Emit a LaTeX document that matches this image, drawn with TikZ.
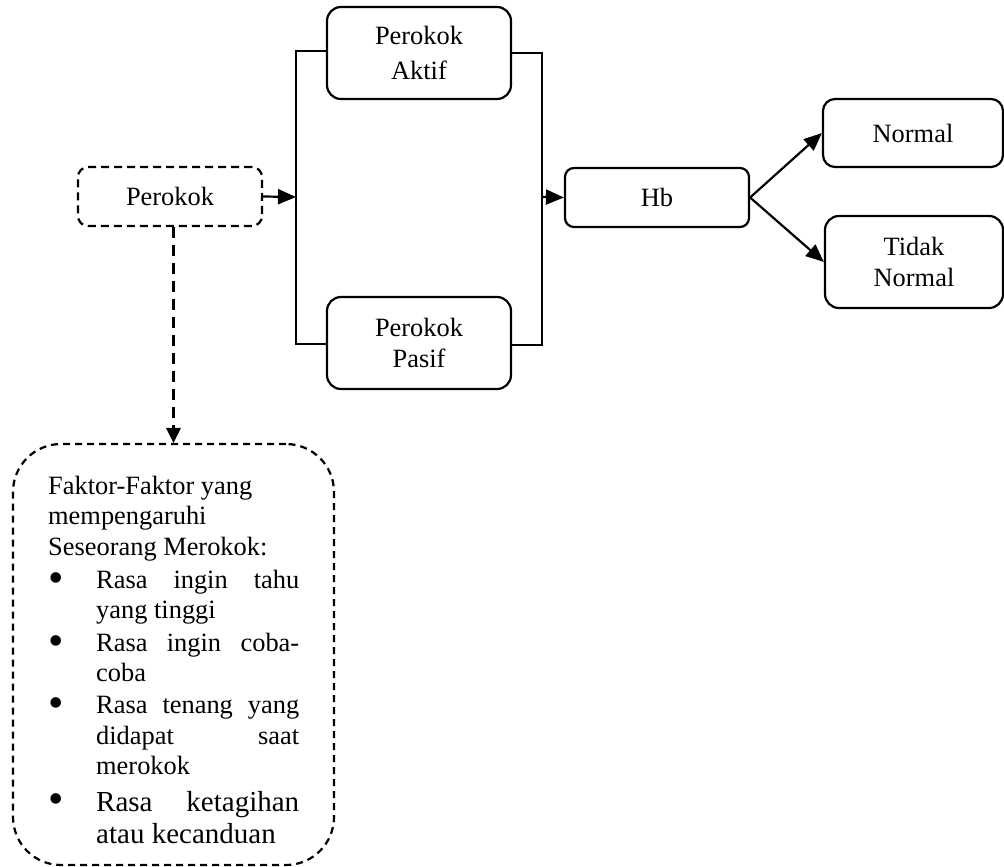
\documentclass[tikz,border=0pt]{standalone}
\usepackage{fontspec}
\setmainfont{Liberation Serif}
\usetikzlibrary{arrows.meta}
\newcommand\bigbul{\raisebox{-4pt}{\fontsize{44}{44}\selectfont\textbullet}}
\tikzset{
  solidbox/.style={draw, line width=2.2pt, rounded corners=14pt, inner sep=0pt, align=center,
    font=\fontsize{26.4}{31}\selectfont},
  smallbox/.style={solidbox, rounded corners=9pt},
  dashbox/.style={draw, line width=2.2pt, dash pattern=on 8pt off 5pt, rounded corners=10pt, inner sep=0pt,
    font=\fontsize{26.4}{31}\selectfont},
  conn/.style={line width=2.2pt},
  arr/.style={line width=2.2pt, -{Triangle[length=18pt,width=15pt]}},
  dasharr/.style={line width=3pt, dash pattern=on 11pt off 7pt, -{Triangle[length=15pt,width=15pt,line width=0pt]}},
  txt/.style={anchor=base west, inner sep=0pt, font=\fontsize{26.4}{30.5}\selectfont},
  bigtxt/.style={anchor=base west, inner sep=0pt, font=\fontsize{29}{32}\selectfont}
}
\begin{document}
\begin{tikzpicture}[x=1pt,y=-1pt]
\useasboundingbox (0,0) rectangle (1004,867);

\node[dashbox, minimum width=184pt, minimum height=59pt] (perokok) at (170,196.5) {Perokok};
\node[solidbox, minimum width=184pt, minimum height=92pt] (aktif) at (419,53) {\raisebox{-2pt}{Perokok}\\[4pt]\raisebox{-2pt}{Aktif}};
\node[solidbox, minimum width=184pt, minimum height=92pt] (pasif) at (419,343) {Perokok\\Pasif};
\node[smallbox, minimum width=184pt, minimum height=59pt] (hb) at (657,197.5) {Hb};
\node[solidbox, rounded corners=12pt, minimum width=180pt, minimum height=68pt] (normal) at (913,133) {Normal};
\node[solidbox, rounded corners=14pt, minimum width=178pt, minimum height=92pt] (tidak) at (914,262) {Tidak\\Normal};
\node[dashbox, rounded corners=48pt, dash pattern=on 7pt off 5pt, minimum width=321pt, minimum height=421pt] (faktor) at (173.5,654.5) {};

% connectors
\coordinate (lsplit) at (296,197);
\coordinate (ltop) at (296,51);
\coordinate (lbot) at (296,344);
\coordinate (rtop) at (542,53);
\coordinate (rbot) at (542,345);
\coordinate (rmid) at (542,197);
\draw[arr] (perokok.east) -- (lsplit);
\draw[conn] (aktif.west |- ltop) -- (ltop) -- (lbot) -- (pasif.west |- lbot);
\draw[conn] (aktif.east |- rtop) -- (rtop) -- (rbot) -- (pasif.east |- rbot);
\draw[arr] (rmid) -- (hb.west);
\draw[arr] (hb.east) -- (normal.west);
\draw[arr] (hb.east) -- (tidak.west);
\draw[dasharr] (faktor.north |- perokok.south) -- (faktor.north);

% text of the factor box
\node[txt] (t1) at (48,494) {Faktor-Faktor yang};
\node[txt] (t2) at (48,524.5) {mempengaruhi};
\node[txt] (t3) at (48,555) {Seseorang Merokok:};
\node[txt] (b1) at (48,588) {\bigbul};
\node[txt] (t4) at (96,588) {\makebox[203pt][s]{Rasa ingin tahu}};
\node[txt] (t5) at (96,618) {yang tinggi};
\node[txt] (b2) at (48,651) {\bigbul};
\node[txt] (t6) at (96,651) {\makebox[203pt][s]{Rasa ingin coba-}};
\node[txt] (t7) at (96,681) {coba};
\node[txt] (b3) at (48,713) {\bigbul};
\node[txt] (t8) at (96,713) {\makebox[203pt][s]{Rasa tenang yang}};
\node[txt] (t9) at (96,744) {\makebox[203pt][s]{didapat saat}};
\node[txt] (t10) at (96,774) {merokok};
\node[txt] (b4) at (48,809) {\bigbul};
\node[bigtxt] (t11) at (96,811) {\makebox[203pt][s]{Rasa ketagihan}};
\node[bigtxt] (t12) at (96,843) {atau kecanduan};
\end{tikzpicture}
\end{document}
